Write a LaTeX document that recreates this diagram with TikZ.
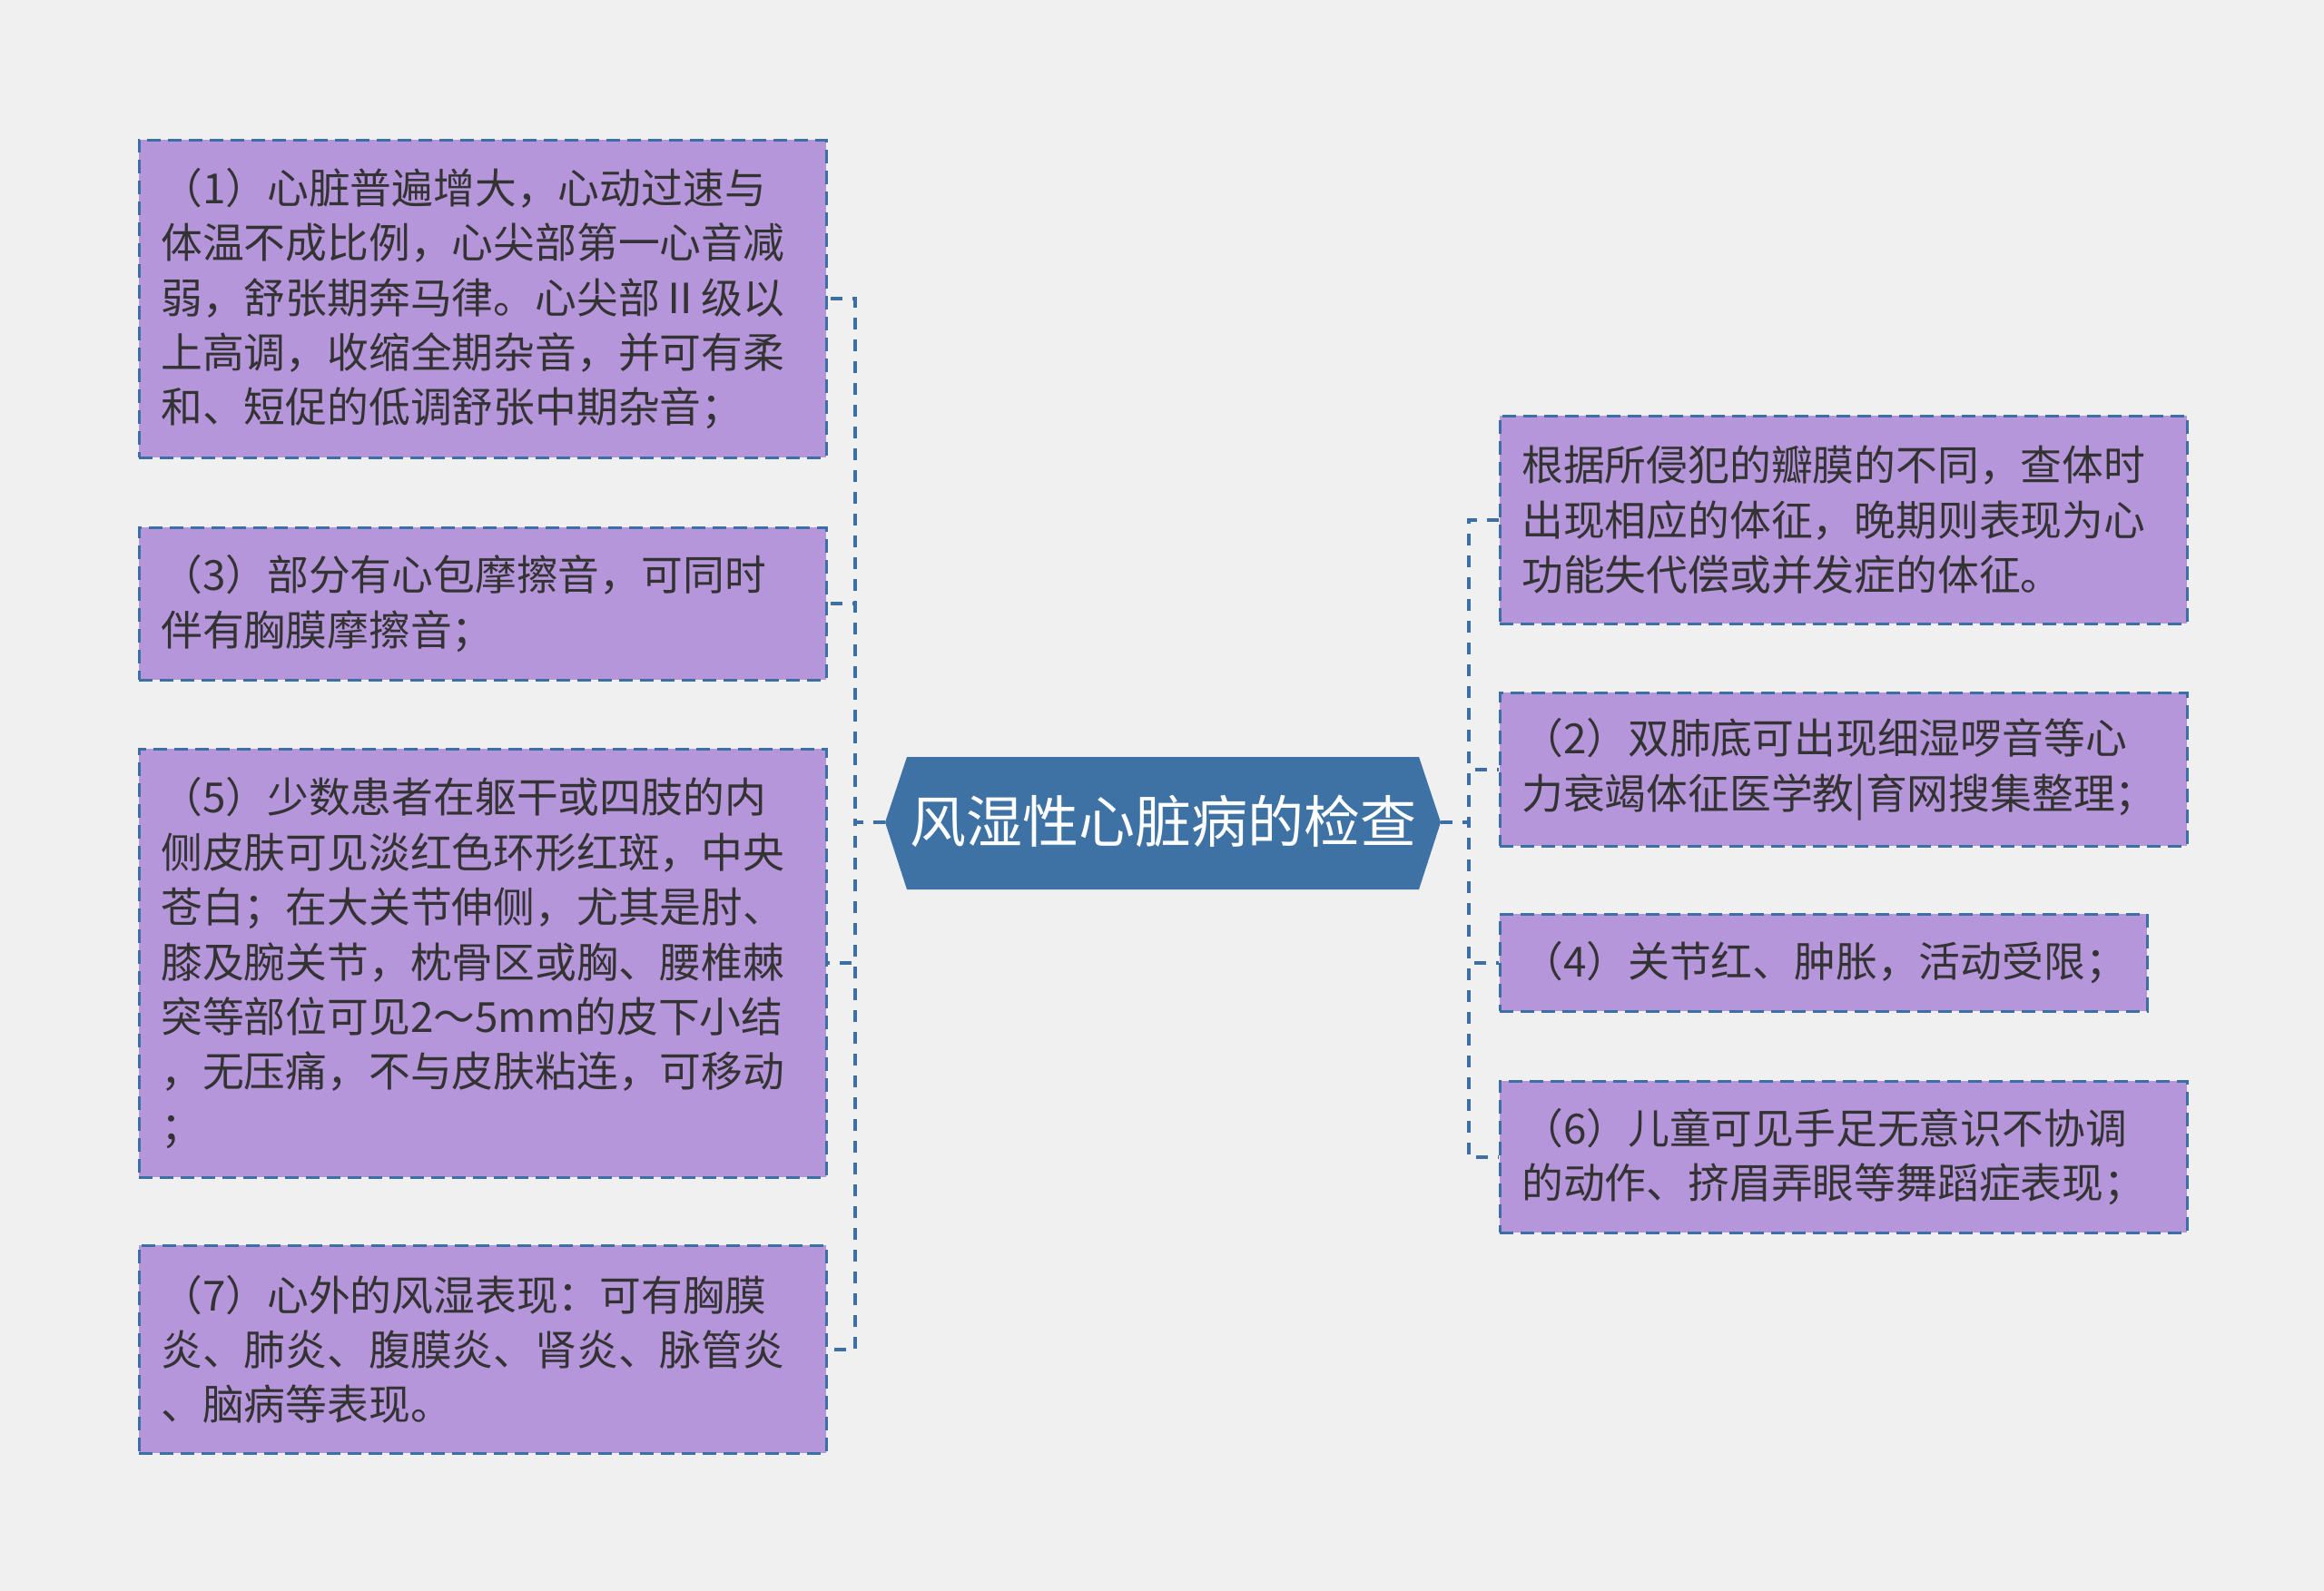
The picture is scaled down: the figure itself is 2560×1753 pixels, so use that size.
\documentclass[tikz,border=0pt]{standalone}
\usepackage{fontspec}
\setmainfont{Noto Sans CJK SC}
\definecolor{bgc}{HTML}{F0F0F0}
\definecolor{boxc}{HTML}{B696DA}
\definecolor{bordc}{HTML}{3C6FA3}
\definecolor{cfill}{HTML}{3E72A4}
\definecolor{txtc}{HTML}{333333}
\begin{document}
\begin{tikzpicture}[x=1pt,y=-1pt,
  leaf/.style={draw=bordc, fill=boxc, line width=2.5pt, dash pattern=on 15pt off 8pt,
    anchor=north west, inner xsep=24pt, inner ysep=0pt, align=left, text=txtc,
    font=\fontsize{45.8}{60.4}\selectfont},
  conn/.style={draw=bordc, line width=4pt, dash pattern=on 13pt off 11pt},
  ctext/.style={text=white, font=\fontsize{62}{72}\selectfont, inner sep=0pt}]
\useasboundingbox[fill=bgc] (0,0) rectangle (2560,1753);
% central node
\fill[cfill] (975,906) -- (999,834) -- (1563,834) -- (1587,906) -- (1563,980) -- (999,980) -- cycle;
\node[ctext] (c) at (1281,905) {风湿性心脏病的检查};
\coordinate (cl) at (975,906);
\coordinate (cr) at (1587,906);
% left boxes
\node[leaf, text width=709pt, minimum height=350pt] (b1) at (152,153)
 {（1）心脏普遍增大，心动过速与\\体温不成比例，心尖部第一心音减\\弱，舒张期奔马律。心尖部Ⅱ级以\\上高调，收缩全期杂音，并可有柔\\和、短促的低调舒张中期杂音；};
\node[leaf, text width=709pt, minimum height=168pt] (b3) at (152,580)
 {（3）部分有心包摩擦音，可同时\\伴有胸膜摩擦音；};
\node[leaf, text width=709pt, minimum height=472pt] (b5) at (152,824)
 {（5）少数患者在躯干或四肢的内\\侧皮肤可见淡红色环形红斑，中央\\苍白；在大关节伸侧，尤其是肘、\\膝及腕关节，枕骨区或胸、腰椎棘\\突等部位可见2～5mm的皮下小结\\，无压痛，不与皮肤粘连，可移动\\；};
\node[leaf, text width=709pt, minimum height=229pt] (b7) at (152,1371)
 {（7）心外的风湿表现：可有胸膜\\炎、肺炎、腹膜炎、肾炎、脉管炎\\、脑病等表现。};
% right boxes
\node[leaf, text width=709pt, minimum height=229pt] (r1) at (1651,457)
 {根据所侵犯的瓣膜的不同，查体时\\出现相应的体征，晚期则表现为心\\功能失代偿或并发症的体征。};
\node[leaf, text width=709pt, minimum height=169pt] (r2) at (1651,762)
 {（2）双肺底可出现细湿啰音等心\\力衰竭体征医学教|育网搜集整理；};
\node[leaf, text width=665pt, minimum height=107pt] (r4) at (1651,1006)
 {（4）关节红、肿胀，活动受限；};
\node[leaf, text width=709pt, minimum height=167pt] (r6) at (1651,1190)
 {（6）儿童可见手足无意识不协调\\的动作、挤眉弄眼等舞蹈症表现；};
% connectors
\foreach \b in {b1,b3,b5,b7}
  \draw[conn] (cl) -- ++(-33,0) |- (\b.east);
\foreach \b in {r1,r2,r4,r6}
  \draw[conn] (cr) -- ++(31,0) |- (\b.west);
\end{tikzpicture}
\end{document}
